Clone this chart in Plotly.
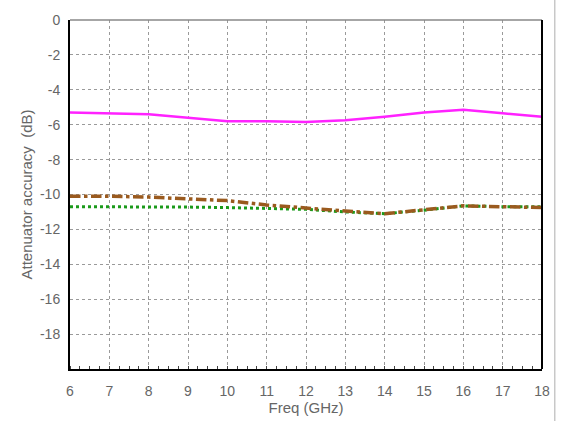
import plotly.graph_objects as go

freq = [6, 7, 8, 9, 10, 11, 12, 13, 14, 15, 16, 17, 18]
magenta = [-5.3, -5.35, -5.4, -5.6, -5.8, -5.8, -5.85, -5.75, -5.55, -5.3, -5.15, -5.35, -5.55]
brown = [-10.1, -10.1, -10.15, -10.25, -10.35, -10.6, -10.8, -10.95, -11.1, -10.85, -10.65, -10.7, -10.75]
green = [-10.7, -10.7, -10.7, -10.72, -10.75, -10.8, -10.85, -11.0, -11.1, -10.9, -10.65, -10.7, -10.7]

yticks = [0, -2, -4, -6, -8, -10, -12, -14, -16, -18]
yticklabels = ["0", "-2", "-4", "-6", "-8", "-10", "-12", "-14", "-16", "-18"]

fig = go.Figure()
fig.add_trace(go.Scatter(x=freq, y=green, mode="lines", line=dict(color="#1a9a1a", width=3, dash="dot"), showlegend=False))
fig.add_trace(go.Scatter(x=freq, y=brown, mode="lines", line=dict(color="#9a5a1e", width=3.5, dash="dashdot"), showlegend=False))
fig.add_trace(go.Scatter(x=freq, y=magenta, mode="lines", line=dict(color="#ff22ff", width=2.5), showlegend=False))

grid = dict(showgrid=True, gridcolor="#9a9a9a", griddash="3px,3px", gridwidth=1)
fig.update_layout(
    width=565, height=421,
    margin=dict(l=70, r=23, t=15, b=45),
    paper_bgcolor="white", plot_bgcolor="white",
    font=dict(family="Liberation Sans, Arial", size=14, color="#666666"),
    xaxis=dict(range=[6, 18], tickvals=freq, ticks="", showline=True, linecolor="black", linewidth=2,
               ticklabelstandoff=8,
               mirror=False, zeroline=False, title=dict(text="Freq (GHz)", standoff=0, font=dict(size=15)),
               minor=dict(dtick=0.25, ticks="inside", ticklen=3, tickcolor="#444", showgrid=False), **grid),
    yaxis=dict(range=[-20, 0], tickvals=yticks, ticktext=yticklabels, ticks="", showline=True, linecolor="black", linewidth=2,
               ticklabelstandoff=5,
               zeroline=False, title=dict(text="Attenuator accuracy  (dB)", standoff=4, font=dict(size=15)), **grid),
    shapes=[
        dict(type="line", xref="paper", yref="paper", x0=0, x1=1, y0=1, y1=1, line=dict(color="#888888", width=1.5)),
        dict(type="line", xref="paper", yref="paper", x0=1, x1=1, y0=0, y1=1, line=dict(color="black", width=2)),
        dict(type="line", xref="paper", yref="paper", x0=1.027, x1=1.027, y0=-0.2, y1=1.1, line=dict(color="#c8c8c8", width=1.5)),
    ],
)
fig.write_html("out.html")
